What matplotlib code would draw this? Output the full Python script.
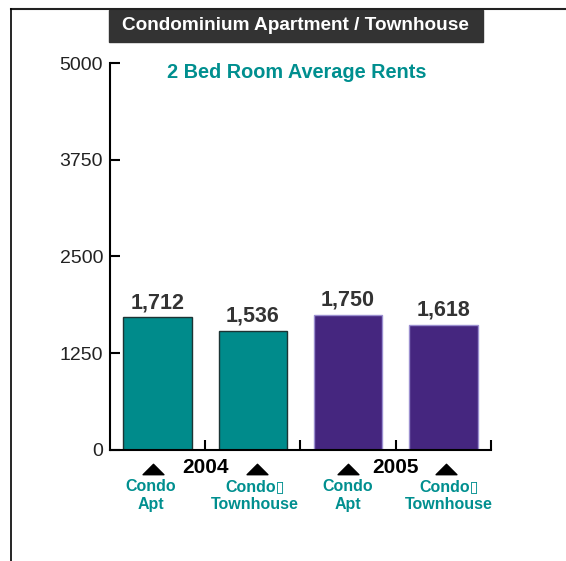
import matplotlib
matplotlib.use("Agg")
import matplotlib.pyplot as plt
from matplotlib.lines import Line2D
from matplotlib.patches import Rectangle
from matplotlib.path import Path

plt.rcParams['font.family'] = ['Liberation Sans', 'DejaVu Sans']

# data
categories = ["Condo\nApt", "Condo\u25af\nTownhouse", "Condo\nApt", "Condo\u25af\nTownhouse"]
rents = [1712, 1536, 1750, 1618]
years = ["2004", "2005"]
bar_colors = ["#008b8b", "#008b8b", "#45267f", "#45267f"]
edge_colors = ["#1c3434", "#1c3434", "#9b8fd0", "#9b8fd0"]
yticks = [0, 1250, 2500, 3750, 5000]

# small horizontal nudges of the arrows / labels under each bar (data units)
tri_shift = [-0.05, 0.04, 0.0, 0.03]
lab_shift = [-0.07, 0.02, 0.0, 0.06]

teal = "#008f8f"

fig = plt.figure(figsize=(5.66, 5.61), dpi=100)
ax = fig.add_axes([0.1943, 0.1979, 0.8675 - 0.1943, 0.8877 - 0.1979])

x = list(range(len(rents)))
bars = ax.bar(x, rents, width=0.72, color=bar_colors, edgecolor=edge_colors, linewidth=1)

for xi, v in zip(x, rents):
    ax.annotate(f"{v:,}", (xi, v), xytext=(0, 3), textcoords="offset points",
                ha="center", va="bottom", fontsize=15.5, fontweight="bold", color="#333333")

ax.set_xlim(-0.5, 3.5)
ax.set_ylim(0, 5000)
ax.set_yticks(yticks)
ax.set_yticklabels([str(t) for t in yticks], fontsize=14, color="#222222")
ax.set_xticks([0.5, 1.5, 2.5, 3.5])
ax.set_xticklabels([])
ax.tick_params(axis="x", direction="in", length=7, width=1.5)
ax.tick_params(axis="y", direction="in", length=7, width=1.5, pad=5)
for s in ["top", "right"]:
    ax.spines[s].set_visible(False)
for s in ["left", "bottom"]:
    ax.spines[s].set_linewidth(1.5)

trans = ax.get_xaxis_transform()
# wide flat triangles under each bar
tri = Path([(-1, -0.5), (1, -0.5), (0, 0.5), (-1, -0.5)],
           [Path.MOVETO, Path.LINETO, Path.LINETO, Path.CLOSEPOLY])
ax.plot([xi + d for xi, d in zip(x, tri_shift)], [-0.049] * len(x), marker=tri, markersize=15,
        color="black", linestyle="none", transform=trans, clip_on=False)
# year labels
for xi, yr in zip([0.5, 2.5], years):
    ax.text(xi, -0.045, yr, transform=trans, ha="center", va="center",
            fontsize=15, fontweight="bold", color="black")
# category labels
for xi, d, lab in zip(x, lab_shift, categories):
    ax.text(xi + d, -0.074, lab, transform=trans, ha="center", va="top",
            fontsize=11.5, fontweight="bold", color=teal, linespacing=1.3)

# title box
fig.patches.append(Rectangle((109 / 566, 1 - 42 / 561), (483 - 109) / 566, 32 / 561,
                             transform=fig.transFigure, color="#333333"))
fig.text(295 / 566, 1 - 26 / 561, "Condominium Apartment / Townhouse", ha="center", va="center",
         fontsize=13.7, fontweight="bold", color="white")
fig.text(297 / 566, 1 - 73 / 561, "2 Bed Room Average Rents", ha="center", va="center",
         fontsize=14.3, fontweight="bold", color=teal)

# frame lines
fig.add_artist(Line2D([11 / 566, 1], [1 - 9 / 561, 1 - 9 / 561], transform=fig.transFigure,
                      color="#222222", linewidth=1.5))
fig.add_artist(Line2D([11 / 566, 11 / 566], [0, 1 - 9 / 561], transform=fig.transFigure,
                      color="black", linewidth=1.2))

fig.savefig("out.png", dpi=100)
